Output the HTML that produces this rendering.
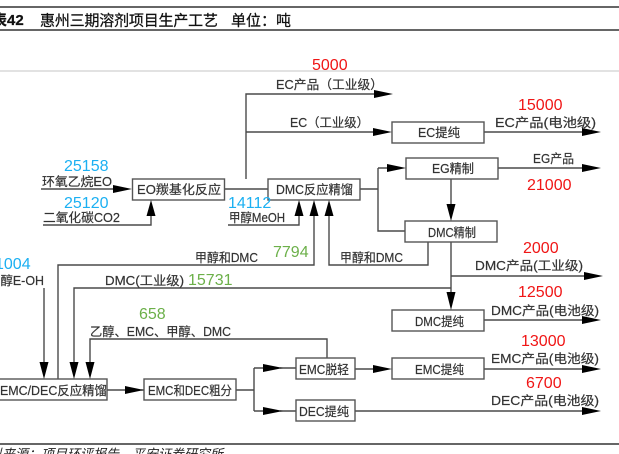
<!DOCTYPE html>
<html><head><meta charset="utf-8"><style>
html,body{margin:0;padding:0;background:#fff;width:619px;height:454px;overflow:hidden}
svg{display:block}
.t{font-family:"Liberation Sans","Noto Sans CJK SC",sans-serif;font-size:12.5px;fill:#333;stroke:#333;stroke-width:.2}
.n{font-family:"Liberation Sans",sans-serif;font-size:16px}
.b{fill:#1ab0f2}.r{fill:#f01414}.g{fill:#6cb04a}
.h{font-family:"Liberation Sans","Noto Sans CJK SC",sans-serif;font-size:15px;fill:#111;stroke:#111;stroke-width:.25}
</style></head><body>
<svg width="619" height="454" viewBox="0 0 619 454" xmlns="http://www.w3.org/2000/svg">
<defs><filter id="s" x="-5%" y="-5%" width="110%" height="110%"><feGaussianBlur stdDeviation="0.3"/></filter></defs>
<g stroke="#333" fill="none">
<path d="M0 7H619M0 30H619" stroke-width="1.4"/>
<path d="M0 444H619" stroke-width="1.4"/>
<path d="M0 71H619" stroke="#c4c4c4" stroke-width="1"/>
</g>
<text class="h" x="-8" y="25" font-weight="bold">表42</text>
<text class="h" x="40" y="25.500" textLength="178" lengthAdjust="spacing">惠州三期溶剂项目生产工艺</text>
<text class="h" x="231" y="25.500" textLength="60" lengthAdjust="spacing">单位：吨</text>
<text x="-24" y="458.5" font-family="'Liberation Sans','Noto Sans CJK SC',sans-serif" font-size="13" font-style="italic" fill="#222">资料来源：项目环评报告，平安证券研究所</text>
<g filter="url(#s)">
<g fill="none" stroke="#4a4a4a" stroke-width="1.4">
<path d="M246 179V94H376M246 132H375"/>
<path d="M41 189H115M43 225H151V214"/>
<path d="M224 189H268M228 225H299V214"/>
<path d="M484 132H585M498 168H585M484 320H585M484 369H585M355 411H585"/>
<path d="M360 189H378M378 168V231H405M378 168H390"/>
<path d="M451 179V206M451 242V294M451 276H586"/>
<path d="M74 364V288H451"/>
<path d="M58 379V265H314V214"/>
<path d="M329 214V265H428V242"/>
<path d="M90 364V339H327V358"/>
<path d="M44 364V288"/>
<path d="M107 390H128M236 390H254M254 368V411M254 368H266M254 411H266M280 368H296M280 411H296"/>
<path d="M355 369H375"/>
<path d="M141 390H144"/>
</g>
<g fill="#fff" stroke="#555" stroke-width="1.4">
<rect x="132.5" y="179" width="92" height="21"/>
<rect x="268" y="179" width="92" height="21"/>
<rect x="392" y="122" width="92" height="21"/>
<rect x="406" y="158" width="92" height="21"/>
<rect x="405" y="221" width="92" height="21"/>
<rect x="392" y="310" width="92" height="21"/>
<rect x="392" y="358" width="92" height="21"/>
<rect x="296" y="358" width="59" height="21"/>
<rect x="296" y="400" width="59" height="21"/>
<rect x="144" y="379" width="92" height="21"/>
<rect x="-2" y="379" width="109" height="21"/>
</g>
<g fill="#000">
<path d="M374 90L393 94L374 98Z"/>
<path d="M373 128L392 132L373 136Z"/>
<path d="M582 128L601 132L582 136Z"/>
<path d="M582 164L601 168L582 172Z"/>
<path d="M387 164L406 168L387 172Z"/>
<path d="M113 185L132 189L113 193Z"/>
<path d="M584 272L603 276L584 280Z"/>
<path d="M582 316L601 320L582 324Z"/>
<path d="M582 365L601 369L582 373Z"/>
<path d="M582 407L601 411L582 415Z"/>
<path d="M373 365L392 369L373 373Z"/>
<path d="M125 386L144 390L125 394Z"/>
<path d="M263 364L283 368L263 372Z"/>
<path d="M263 407L283 411L263 415Z"/>
<path d="M146.500 216L151 200L155.500 216Z"/>
<path d="M294.500 216L299 200L303.500 216Z"/>
<path d="M309.500 216L314 200L318.500 216Z"/>
<path d="M324.500 216L329 200L333.500 216Z"/>
<path d="M446.500 204L451 221L455.500 204Z"/>
<path d="M446.500 292L451 310L455.500 292Z"/>
<path d="M39.500 362L44 379L48.500 362Z"/>
<path d="M69.500 362L74 379L78.500 362Z"/>
<path d="M85.500 362L90 379L94.500 362Z"/>
</g>
<text class="t" x="276" y="89" textLength="107" lengthAdjust="spacingAndGlyphs">EC产品（工业级）</text>
<text class="t" x="290" y="127" textLength="79" lengthAdjust="spacingAndGlyphs">EC（工业级）</text>
<text class="t" x="418" y="137" textLength="42" lengthAdjust="spacingAndGlyphs">EC提纯</text>
<text class="t" x="495" y="127" textLength="101" lengthAdjust="spacingAndGlyphs">EC产品(电池级)</text>
<text class="t" x="533" y="163" textLength="41" lengthAdjust="spacingAndGlyphs">EG产品</text>
<text class="t" x="432" y="173" textLength="42" lengthAdjust="spacingAndGlyphs">EG精制</text>
<text class="t" x="276" y="194" textLength="77" lengthAdjust="spacingAndGlyphs">DMC反应精馏</text>
<text class="t" x="137" y="194" textLength="84" lengthAdjust="spacingAndGlyphs">EO羰基化反应</text>
<text class="t" x="42" y="186" textLength="70" lengthAdjust="spacingAndGlyphs">环氧乙烷EO</text>
<text class="t" x="43" y="222" textLength="77" lengthAdjust="spacingAndGlyphs">二氧化碳CO2</text>
<text class="t" x="229" y="222" textLength="56" lengthAdjust="spacingAndGlyphs">甲醇MeOH</text>
<text class="t" x="-12" y="285" textLength="56" lengthAdjust="spacingAndGlyphs">乙醇E-OH</text>
<text class="t" x="195" y="262" textLength="63" lengthAdjust="spacingAndGlyphs">甲醇和DMC</text>
<text class="t" x="105" y="285" textLength="79" lengthAdjust="spacingAndGlyphs">DMC(工业级)</text>
<text class="t" x="90" y="336" textLength="141" lengthAdjust="spacingAndGlyphs">乙醇、EMC、甲醇、DMC</text>
<text class="t" x="0" y="395" textLength="107" lengthAdjust="spacingAndGlyphs">EMC/DEC反应精馏</text>
<text class="t" x="148" y="395" textLength="84" lengthAdjust="spacingAndGlyphs">EMC和DEC粗分</text>
<text class="t" x="299" y="374" textLength="50" lengthAdjust="spacingAndGlyphs">EMC脱轻</text>
<text class="t" x="415" y="374" textLength="49" lengthAdjust="spacingAndGlyphs">EMC提纯</text>
<text class="t" x="415" y="326" textLength="49" lengthAdjust="spacingAndGlyphs">DMC提纯</text>
<text class="t" x="299" y="416" textLength="50" lengthAdjust="spacingAndGlyphs">DEC提纯</text>
<text class="t" x="428" y="237" textLength="48" lengthAdjust="spacingAndGlyphs">DMC精制</text>
<text class="t" x="340" y="262" textLength="63" lengthAdjust="spacingAndGlyphs">甲醇和DMC</text>
<text class="t" x="475" y="270" textLength="108" lengthAdjust="spacingAndGlyphs">DMC产品(工业级)</text>
<text class="t" x="491" y="315" textLength="108" lengthAdjust="spacingAndGlyphs">DMC产品(电池级)</text>
<text class="t" x="491" y="363" textLength="108" lengthAdjust="spacingAndGlyphs">EMC产品(电池级)</text>
<text class="t" x="491" y="405" textLength="108" lengthAdjust="spacingAndGlyphs">DEC产品(电池级)</text>
<text class="n r" x="312" y="70">5000</text>
<text class="n r" x="518" y="110">15000</text>
<text class="n r" x="527" y="190">21000</text>
<text class="n r" x="523" y="253">2000</text>
<text class="n r" x="518" y="297">12500</text>
<text class="n r" x="521" y="346">13000</text>
<text class="n r" x="526" y="388">6700</text>
<text class="n b" x="64" y="171">25158</text>
<text class="n b" x="64" y="208">25120</text>
<text class="n b" x="228" y="208">14112</text>
<text class="n b" x="-5" y="269">1004</text>
<text class="n g" x="273" y="257">7794</text>
<text class="n g" x="188" y="285">15731</text>
<text class="n g" x="139" y="319">658</text>
</g>
</svg>
</body></html>
